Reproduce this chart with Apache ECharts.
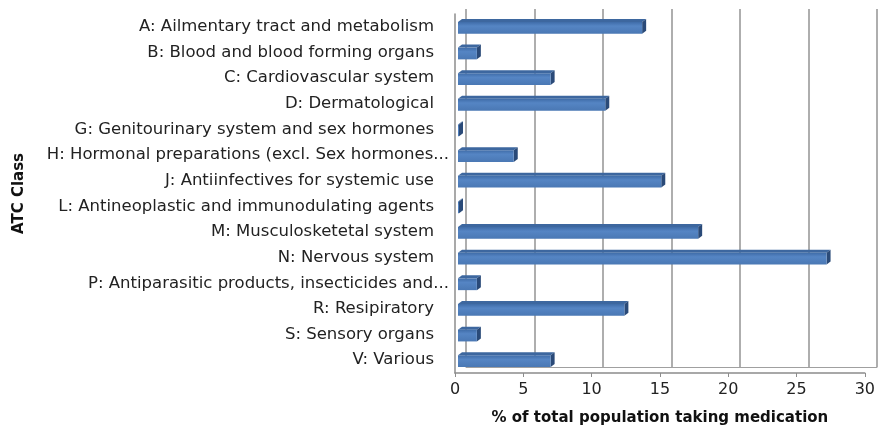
<!DOCTYPE html>
<html>
<head>
<meta charset="utf-8">
<script src="https://cdn.jsdelivr.net/npm/echarts@6/dist/echarts.min.js"></script>
<style>
  html, body { margin: 0; padding: 0; background: #fff; }
  #main { width: 878px; height: 436px; }
</style>
</head>
<body>
<div id="main"></div>
<script>
var categories = [
    "A: Ailmentary tract and metabolism",
    "B: Blood and blood forming organs",
    "C: Cardiovascular system",
    "D: Dermatological",
    "G: Genitourinary system and sex hormones",
    "H: Hormonal preparations (excl. Sex hormones...",
    "J: Antiinfectives for systemic use",
    "L: Antineoplastic and immunodulating agents",
    "M: Musculosketetal system",
    "N: Nervous system",
    "P: Antiparasitic products, insecticides and...",
    "R: Resipiratory",
    "S: Sensory organs",
    "V: Various"
];
var values = [13.7, 1.6, 7.0, 11.0, 0.2, 4.3, 15.1, 0.2, 17.8, 27.2, 1.6, 12.4, 1.6, 7.0];
var xTicks = [0, 5, 10, 15, 20, 25, 30];

var chart = echarts.init(document.getElementById("main"));
var font = "'DejaVu Sans', 'Open Sans', sans-serif";

// 3D-looking bar: front face + top face + right side
function renderBar(params, api) {
    var idx = api.value(0);
    var start = api.coord([0, idx]);
    var end = api.coord([api.value(1), idx]);
    var h = api.size([0, 1])[1] * 0.46;
    var dx = 4, dy = -3;
    var x0 = start[0] + 3, x1 = end[0], yTop = start[1] - h / 2 + 1, yBot = start[1] + h / 2 + 1;
    if (x1 < x0 + 1) x1 = x0 + 1;
    return {
        type: 'group',
        children: [
            {
                type: 'polygon',
                shape: { points: [[x0, yTop], [x1, yTop], [x1 + dx, yTop + dy], [x0 + dx, yTop + dy]] },
                style: { fill: '#3d679f' }
            },
            {
                type: 'polygon',
                shape: { points: [[x1, yTop], [x1 + dx, yTop + dy], [x1 + dx, yBot + dy], [x1, yBot]] },
                style: { fill: '#2a4a78' }
            },
            {
                type: 'rect',
                shape: { x: x0, y: yTop, width: x1 - x0, height: h },
                style: {
                    fill: new echarts.graphic.LinearGradient(0, 0, 0, 1, [
                        { offset: 0, color: '#3f6ca8' },
                        { offset: 0.35, color: '#5585c4' },
                        { offset: 1, color: '#4a78b4' }
                    ])
                }
            }
        ]
    };
}

var option = {
    backgroundColor: '#fff',
    animation: false,
    grid: [
        // back wall (gridlines)
        { left: 466, right: 1, top: 9, bottom: 69 },
        // front plane
        { left: 455, right: 11, top: 14, bottom: 63 }
    ],
    xAxis: [
        {
            gridIndex: 0, type: 'value', min: 0, max: 30, interval: 5,
            axisLabel: { show: false }, axisTick: { show: false },
            axisLine: { show: true, lineStyle: { color: '#a0a0a0', width: 1 } },
            splitLine: { show: true, lineStyle: { color: '#9a9a9a', width: 1.6 } }
        },
        {
            gridIndex: 1, type: 'value', min: 0, max: 30, interval: 5,
            axisLine: { show: true, lineStyle: { color: '#8c8c8c', width: 1.5 } },
            axisTick: { show: true, length: 4, lineStyle: { color: '#8c8c8c' } },
            splitLine: { show: false },
            axisLabel: {
                color: '#222', fontSize: 16, fontFamily: font, margin: 9,
                formatter: function (v) { return xTicks.indexOf(v) >= 0 ? String(v) : ''; }
            },
            name: '% of total population taking medication',
            nameLocation: 'middle', nameGap: 38,
            nameTextStyle: { color: '#111', fontSize: 15, fontWeight: 'bold', fontFamily: font }
        }
    ],
    yAxis: [
        {
            gridIndex: 0, type: 'category', data: categories, inverse: true,
            axisLabel: { show: false }, axisTick: { show: false },
            axisLine: { show: false }, splitLine: { show: false }
        },
        {
            gridIndex: 1, type: 'category', data: categories, inverse: true,
            axisLine: { show: true, lineStyle: { color: '#8c8c8c', width: 1.5 } },
            axisTick: { show: false },
            axisLabel: {
                color: '#222', fontSize: 16.5, fontFamily: font, margin: 6,
                formatter: function (v) {
                    // truncated labels sit a little further right, as in the source
                    return /\.\.\.$/.test(v) ? '{t|' + v + '}' : '{p|' + v + '}';
                },
                rich: {
                    p: { fontSize: 16.5, fontFamily: font, color: '#222', padding: [0, 15, 0, 0] },
                    t: { fontSize: 16.5, fontFamily: font, color: '#222' }
                }
            },
            name: 'ATC Class', nameLocation: 'middle', nameRotate: 90, nameGap: 428,
            nameTextStyle: { color: '#111', fontSize: 15, fontWeight: 'bold', fontFamily: font }
        }
    ],
    series: [{
        type: 'custom',
        xAxisIndex: 1,
        yAxisIndex: 1,
        renderItem: renderBar,
        encode: { x: 1, y: 0 },
        data: values.map(function (v, i) { return [i, v]; })
    }]
};

chart.setOption(option);
</script>
</body>
</html>
